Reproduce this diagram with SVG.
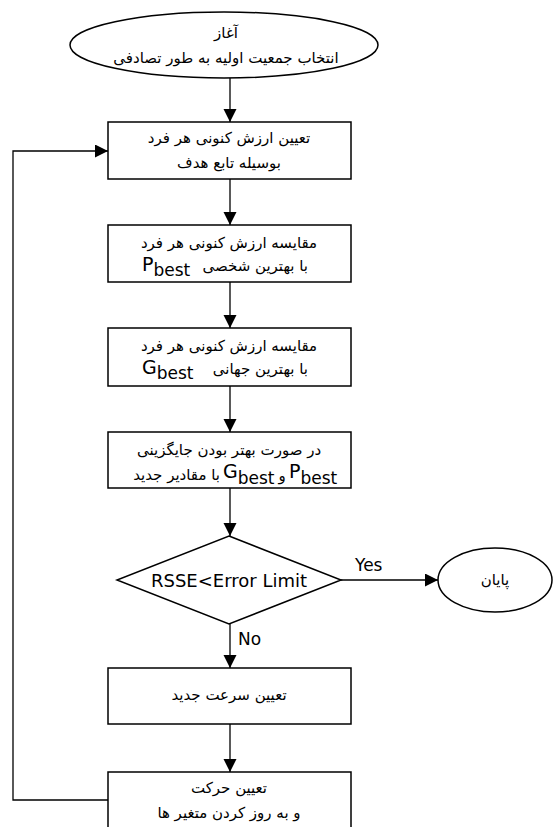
<svg xmlns="http://www.w3.org/2000/svg" width="554" height="827" viewBox="0 0 554 827">
<style>
.shape{fill:#fff;stroke:#000;stroke-width:1.5}
.fa{font-family:"DejaVu Sans","Noto Sans",sans-serif;font-size:15px;fill:#000}
.la{font-family:"DejaVu Sans","Liberation Sans",sans-serif;fill:#000}
.conn{fill:none;stroke:#000;stroke-width:1.3}
</style>
<defs>
<marker id="ah" markerUnits="userSpaceOnUse" markerWidth="14" markerHeight="14" refX="13" refY="6.5" orient="auto">
<path d="M0,0 L13,6.5 L0,13 Z" fill="#000"/>
</marker>
</defs>
<rect width="554" height="827" fill="#fff"/>
<g id="connectors">
<path class="conn" d="M230,78 V122" marker-end="url(#ah)"/>
<path class="conn" d="M230,179 V225" marker-end="url(#ah)"/>
<path class="conn" d="M230,282 V328" marker-end="url(#ah)"/>
<path class="conn" d="M230,386 V432" marker-end="url(#ah)"/>
<path class="conn" d="M230,488 V536" marker-end="url(#ah)"/>
<path class="conn" d="M230,624 V668" marker-end="url(#ah)"/>
<path class="conn" d="M230,724 V772" marker-end="url(#ah)"/>
<path class="conn" d="M341,580 H438" marker-end="url(#ah)"/>
<path class="conn" d="M108,800 H13 V151 H108" marker-end="url(#ah)"/>
<text class="la" x="355" y="571" font-size="17">Yes</text>
<text class="la" x="238" y="645" font-size="17">No</text>
</g>
<g id="start">
<ellipse class="shape" cx="224" cy="45" rx="154" ry="33"/>
<text class="fa" x="226" y="38" text-anchor="middle">آغاز</text>
<text class="fa" x="226" y="63" text-anchor="middle">انتخاب جمعیت اولیه به طور تصادفی</text>
</g>
<g id="box1">
<rect class="shape" x="108" y="122" width="243" height="57"/>
<text class="fa" x="229" y="143" text-anchor="middle">تعیین ارزش کنونی هر فرد</text>
<text class="fa" x="229" y="168" text-anchor="middle">بوسیله تابع هدف</text>
</g>
<g id="box2">
<rect class="shape" x="108" y="225" width="243" height="57"/>
<text class="fa" x="229" y="248" text-anchor="middle">مقایسه ارزش کنونی هر فرد</text>
<text class="fa" x="308" y="271" text-anchor="end">با بهترین شخصی</text>
<text class="la" x="142" y="271" font-size="19">P<tspan dy="5" font-size="17">best</tspan></text>
</g>
<g id="box3">
<rect class="shape" x="108" y="328" width="243" height="58"/>
<text class="fa" x="229" y="351" text-anchor="middle">مقایسه ارزش کنونی هر فرد</text>
<text class="fa" x="308" y="374" text-anchor="end">با بهترین جهانی</text>
<text class="la" x="142" y="374" font-size="19">G<tspan dy="5" font-size="17">best</tspan></text>
</g>
<g id="box4">
<rect class="shape" x="108" y="432" width="243" height="56"/>
<text class="fa" x="220" y="480" text-anchor="end">با مقادیر جدید</text>
<text class="fa" x="229" y="455" text-anchor="middle">در صورت بهتر بودن جایگزینی</text>
<text class="la" x="223" y="478" font-size="19">G<tspan dy="6" font-size="17">best</tspan></text>
<text class="fa" x="282" y="481" text-anchor="middle">و</text>
<text class="la" x="289" y="478" font-size="19">P<tspan dy="6" font-size="17">best</tspan></text>
</g>
<g id="decision">
<polygon class="shape" points="229,536 341,580 229,624 117,580"/>
<text class="la" x="229" y="587" font-size="18" text-anchor="middle">RSSE&lt;Error Limit</text>
</g>
<g id="end">
<ellipse class="shape" cx="495" cy="580" rx="57" ry="32"/>
<text class="fa" x="495" y="585" text-anchor="middle">پایان</text>
</g>
<g id="box5">
<rect class="shape" x="108" y="668" width="243" height="56"/>
<text class="fa" x="229" y="700" text-anchor="middle">تعیین سرعت جدید</text>
</g>
<g id="box6">
<rect class="shape" x="108" y="772" width="243" height="60"/>
<text class="fa" x="229" y="793" text-anchor="middle">تعیین حرکت</text>
<text class="fa" x="229" y="818" text-anchor="middle">و به روز کردن متغیر ها</text>
</g>
</svg>
